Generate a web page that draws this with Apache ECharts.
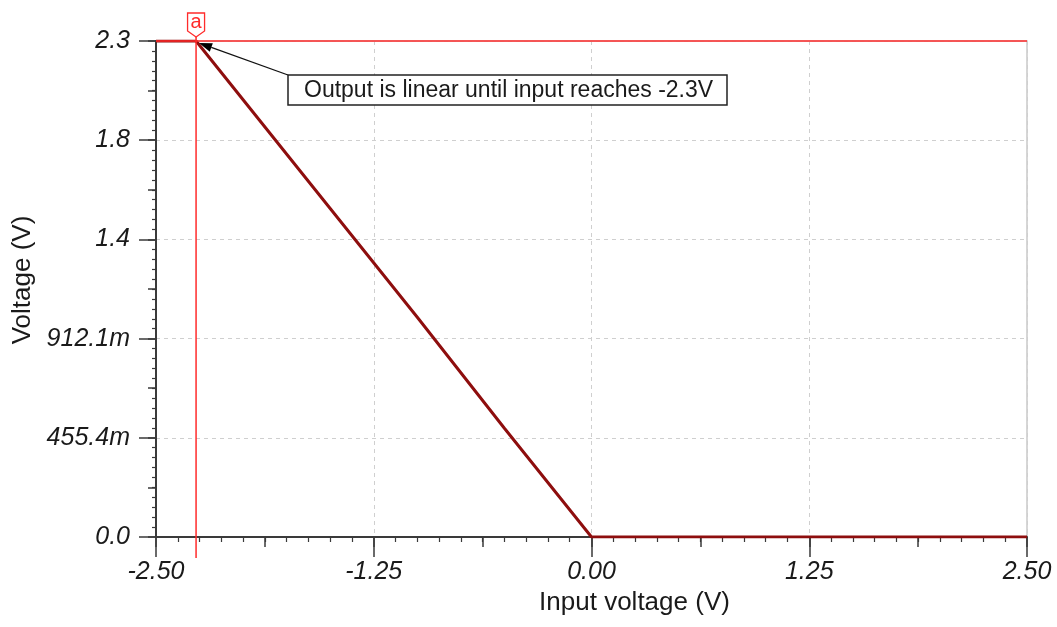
<!DOCTYPE html>
<html>
<head>
<meta charset="utf-8">
<script src="https://cdn.jsdelivr.net/npm/echarts@6/dist/echarts.min.js"></script>
<style>
html,body{margin:0;padding:0;background:#fff;}
#chart{width:1057px;height:627px;}
</style>
</head>
<body>
<div id="chart"></div>
<script>
// ---- data ----
const xTickLabels = ['-2.50', '-1.25', '0.00', '1.25', '2.50'];
const yTickLabels = ['0.0', '455.4m', '912.1m', '1.4', '1.8', '2.3'];
const inputVoltage = [-2.5, -2.27, -2.0, -1.5, -1.0, -0.5, 0.0, 2.5];
const outputVoltage = [2.28, 2.28, 2.01, 1.51, 1.01, 0.5, 0.0, 0.0];
const cursorX = -2.27;
const cursorY = 2.28;
const markerLabel = 'a';
const annotationText = 'Output is linear until input reaches -2.3V';
const xTitle = 'Input voltage (V)';
const yTitle = 'Voltage (V)';

const X_MIN = -2.5, X_MAX = 2.5, X_INT = 1.25;
const Y_MIN = 0, Y_MAX = 2.28, Y_INT = 0.456;

const FONT = "'Liberation Sans', Arial, sans-serif";
const AXIS_COLOR = '#3a3a3a';
const GRID_COLOR = '#cfcfcf';
const CURSOR_RED = '#ff2b2b';

const chart = echarts.init(document.getElementById('chart'), null, {renderer: 'canvas'});

const seriesData = inputVoltage.map((x, i) => [x, outputVoltage[i]]);

const option = {
  backgroundColor: '#ffffff',
  animation: false,
  grid: {
    left: 156, right: 30, top: 41, bottom: 90,
    show: true, borderColor: '#c9c9c9', borderWidth: 1.5, backgroundColor: 'transparent'
  },
  xAxis: [
    {
      type: 'value', min: X_MIN, max: X_MAX, interval: X_INT,
      name: xTitle, nameLocation: 'middle', nameGap: 52,
      nameTextStyle: {fontFamily: FONT, fontSize: 26, color: '#1a1a1a', padding: [0, 0, 0, 86]},
      axisLine: {show: true, onZero: false, lineStyle: {color: AXIS_COLOR, width: 2}},
      axisTick: {show: true, length: 20, lineStyle: {color: AXIS_COLOR, width: 1.5}},
      minorTick: {show: true, splitNumber: 10, length: 5, lineStyle: {color: AXIS_COLOR, width: 1.2}},
      axisLabel: {
        margin: 23, fontFamily: FONT, fontSize: 25, fontStyle: 'italic', color: '#1a1a1a',
        formatter: (v) => xTickLabels[Math.round((v - X_MIN) / X_INT)] ?? ''
      },
      splitLine: {show: true, lineStyle: {color: GRID_COLOR, type: [4, 4], width: 1}}
    },
    {
      type: 'value', min: X_MIN, max: X_MAX, interval: X_INT / 2, position: 'bottom',
      axisLine: {show: false, onZero: false},
      axisTick: {show: true, length: 10, lineStyle: {color: AXIS_COLOR, width: 1.5}},
      axisLabel: {show: false},
      splitLine: {show: false}
    }
  ],
  yAxis: [
    {
      type: 'value', min: Y_MIN, max: Y_MAX, interval: Y_INT,
      name: yTitle, nameLocation: 'middle', nameGap: 118,
      nameTextStyle: {fontFamily: FONT, fontSize: 26, color: '#1a1a1a', padding: [0, 0, 0, 18]},
      axisLine: {show: true, onZero: false, lineStyle: {color: AXIS_COLOR, width: 2}},
      axisTick: {show: true, length: 17, lineStyle: {color: AXIS_COLOR, width: 1.5}},
      minorTick: {show: true, splitNumber: 10, length: 4, lineStyle: {color: AXIS_COLOR, width: 1.2}},
      axisLabel: {
        margin: 26, fontFamily: FONT, fontSize: 25, fontStyle: 'italic', color: '#1a1a1a',
        formatter: (v) => yTickLabels[Math.round((v - Y_MIN) / Y_INT)] ?? ''
      },
      splitLine: {show: true, lineStyle: {color: GRID_COLOR, type: [4, 4], width: 1}}
    },
    {
      type: 'value', min: Y_MIN, max: Y_MAX, interval: Y_INT / 2, position: 'left',
      axisLine: {show: false, onZero: false},
      axisTick: {show: true, length: 8, lineStyle: {color: AXIS_COLOR, width: 1.5}},
      axisLabel: {show: false},
      splitLine: {show: false}
    }
  ],
  series: [
    {
      type: 'line', xAxisIndex: 0, yAxisIndex: 0,
      data: seriesData, showSymbol: false, symbol: 'none',
      lineStyle: {color: '#8e0e0e', width: 3},
      z: 3
    }
  ]
};

chart.setOption(option);

// ---- cursor, marker and annotation (positions derived from the axes) ----
function px(x, y) { return chart.convertToPixel({xAxisIndex: 0, yAxisIndex: 0}, [x, y]); }
const leftPt = px(X_MIN, Y_MIN);
const rightPt = px(X_MAX, Y_MAX);
const cur = px(cursorX, cursorY);
const cx = cur[0];
const topY = rightPt[1];
const bottomY = leftPt[1];

const markTop = topY - 28, markBodyBottom = topY - 10, markTip = topY - 4;
const hw = 8.5;

// arrow
const boxX = 288, boxY = 75, boxW = 439, boxH = 30;
const tip = [cur[0] + 3, cur[1] + 2];
const start = [boxX, boxY];
const dx = start[0] - tip[0], dy = start[1] - tip[1];
const len = Math.sqrt(dx * dx + dy * dy);
const ux = dx / len, uy = dy / len;
const aL = 13, aW = 4.5;
const base = [tip[0] + ux * aL, tip[1] + uy * aL];
const headPts = [tip, [base[0] - uy * aW, base[1] + ux * aW], [base[0] + uy * aW, base[1] - ux * aW]];

chart.setOption({
  graphic: [
    {type: 'line', z: 50, shape: {x1: leftPt[0], y1: cur[1], x2: rightPt[0], y2: cur[1]},
     style: {stroke: CURSOR_RED, lineWidth: 1.5}},
    {type: 'line', z: 50, shape: {x1: cx, y1: markTip, x2: cx, y2: bottomY + 21},
     style: {stroke: CURSOR_RED, lineWidth: 1.5}},
    {type: 'polygon', z: 51,
     shape: {points: [[cx - hw, markTop], [cx + hw, markTop], [cx + hw, markBodyBottom], [cx, markTip], [cx - hw, markBodyBottom]]},
     style: {fill: '#ffffff', stroke: CURSOR_RED, lineWidth: 1.3}},
    {type: 'text', z: 52, x: cx, y: (markTop + markBodyBottom) / 2 + 0.5,
     style: {text: markerLabel, fill: CURSOR_RED, font: '20px ' + FONT, align: 'center', verticalAlign: 'middle'}},
    {type: 'line', z: 53, shape: {x1: start[0], y1: start[1], x2: base[0], y2: base[1]},
     style: {stroke: '#111111', lineWidth: 1.3}},
    {type: 'polygon', z: 54, shape: {points: headPts}, style: {fill: '#000000'}},
    {type: 'rect', z: 55, shape: {x: boxX, y: boxY, width: boxW, height: boxH},
     style: {fill: '#ffffff', stroke: '#222222', lineWidth: 1.5}},
    {type: 'text', z: 56, x: boxX + 16, y: boxY + boxH / 2 + 1,
     style: {text: annotationText, fill: '#1a1a1a', font: '23px ' + FONT, align: 'left', verticalAlign: 'middle'}}
  ]
});
</script>
</body>
</html>
